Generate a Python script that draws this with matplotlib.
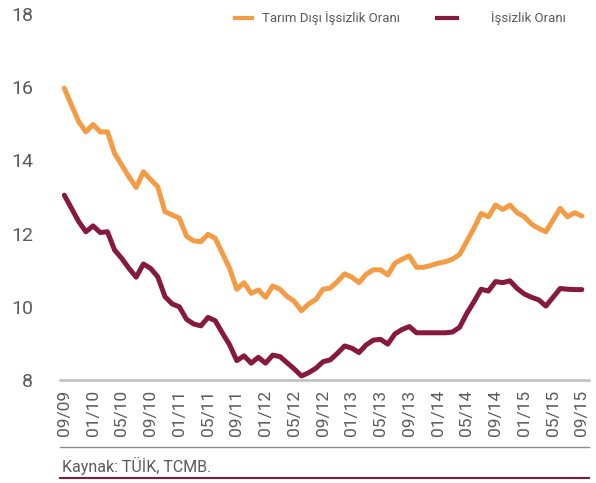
import numpy as np
import matplotlib
matplotlib.use("Agg")
import matplotlib.pyplot as plt
from matplotlib.lines import Line2D

# monthly data, 09/2009 - 09/2015
tarim_disi = [15.97, 15.51, 15.06, 14.78, 14.98, 14.78, 14.78, 14.19, 13.87, 13.55,
              13.26, 13.69, 13.48, 13.28, 12.60, 12.51, 12.42, 11.93, 11.80, 11.78,
              11.98, 11.87, 11.46, 11.05, 10.48, 10.66, 10.37, 10.46, 10.26, 10.57,
              10.48, 10.28, 10.15, 9.89, 10.08, 10.20, 10.48, 10.51, 10.69, 10.90,
              10.81, 10.66, 10.89, 11.01, 11.01, 10.87, 11.19, 11.30, 11.39, 11.08,
              11.08, 11.13, 11.19, 11.23, 11.30, 11.43, 11.79, 12.15, 12.55, 12.46,
              12.78, 12.66, 12.78, 12.57, 12.46, 12.26, 12.14, 12.05, 12.37, 12.69,
              12.46, 12.57, 12.48]
issizlik = [13.05, 12.69, 12.33, 12.05, 12.21, 12.03, 12.05, 11.55, 11.32, 11.05,
            10.81, 11.17, 11.05, 10.82, 10.28, 10.08, 10.00, 9.66, 9.53, 9.48,
            9.71, 9.62, 9.28, 8.96, 8.53, 8.66, 8.46, 8.62, 8.46, 8.68,
            8.64, 8.47, 8.30, 8.11, 8.20, 8.32, 8.50, 8.55, 8.73, 8.93,
            8.87, 8.75, 8.96, 9.09, 9.11, 8.98, 9.26, 9.38, 9.46, 9.29,
            9.29, 9.29, 9.29, 9.29, 9.31, 9.44, 9.82, 10.14, 10.48, 10.43,
            10.69, 10.66, 10.71, 10.50, 10.35, 10.26, 10.19, 10.02, 10.26, 10.50,
            10.48, 10.47, 10.47]
tick_labels = ["09/09", "01/10", "05/10", "09/10", "01/11", "05/11", "09/11",
               "01/12", "05/12", "09/12", "01/13", "05/13", "09/13", "01/14",
               "05/14", "09/14", "01/15", "05/15", "09/15"]
series_names = ["Tarım Dışı İşsizlik Oranı", "İşsizlik Oranı"]
source = "Kaynak: TÜİK, TCMB."

orange = "#F39C45"
maroon = "#86193F"
txt = "#5a5a5a"

plt.rcParams['font.family'] = ['Roboto', 'DejaVu Sans']

fig = plt.figure(figsize=(5.96, 4.83), dpi=100)
ax = fig.add_axes([60/596, 1-380/483, 529/596, (380-14)/483])

x = np.arange(len(tarim_disi))
ax.plot(x, tarim_disi, color=orange, lw=3.6, solid_joinstyle='round', solid_capstyle='round')
ax.plot(x, issizlik, color=maroon, lw=3.6, solid_joinstyle='round', solid_capstyle='round')

ax.set_xlim(-0.6, 73.0)
ax.set_ylim(8, 18)
ax.set_yticks([8, 10, 12, 14, 16, 18])
ax.set_xticks(x[::4])
ax.set_xticklabels(tick_labels, rotation=90)
ax.tick_params(axis='y', length=0, pad=19.5, labelsize=14, labelcolor=txt)
ax.tick_params(axis='x', length=0, pad=7, labelsize=12.5, labelcolor=txt)
for s in ['top', 'right', 'left']:
    ax.spines[s].set_visible(False)
ax.spines['bottom'].set_color('#bdbdbd')
ax.spines['bottom'].set_linewidth(1.8)

# legend drawn by hand
fig.add_artist(Line2D([235/596, 252/596], [1-18/483]*2, color=orange, lw=3))
fig.text(262/596, 1-18/483, series_names[0], fontsize=9.5, color=txt, va='center')
fig.add_artist(Line2D([437/596, 457/596], [1-18/483]*2, color=maroon, lw=3))
fig.text(491/596, 1-18/483, series_names[1], fontsize=9.5, color=txt, va='center')

# source block
fig.add_artist(Line2D([60/596, 589/596], [1-447/483]*2, color='#8c8c8c', lw=1))
fig.text(62/596, 1-466/483, source, fontsize=11.5, color=txt, va='center')
fig.add_artist(Line2D([60/596, 589/596], [1-478/483]*2, color=maroon, lw=1.5))

fig.savefig("out.png", dpi=100)
